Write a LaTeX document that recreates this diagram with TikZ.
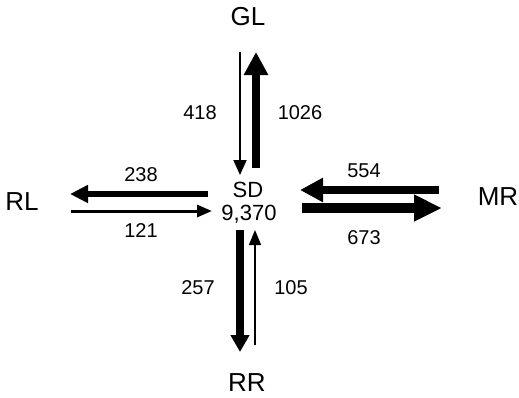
\documentclass[tikz,border=0pt]{standalone}
\usepackage{fontspec}
\setmainfont{Liberation Sans}
\usetikzlibrary{arrows.meta}
\begin{document}
\begin{tikzpicture}[x=1pt,y=-1pt,
  lbl/.style={font=\fontsize{20}{23}\selectfont, inner sep=0pt},
  sdlbl/.style={font=\fontsize{22}{25}\selectfont, inner sep=0pt},
  place/.style={font=\fontsize{26}{29}\selectfont, inner sep=0pt},
  flow/.style args={#1/#2/#3}{line width=#1, -{Triangle[width=#2, length=#3]}}]
\useasboundingbox (0,0) rectangle (519,397);
% places
\node[place] (GL) at (248,17) {GL};
\node[place] (RL) at (22,202) {RL};
\node[place] (MR) at (498,197) {MR};
\node[place] (RR) at (247,383) {RR};
\node[sdlbl] (SD) at (248,190) {SD};
\node[sdlbl] (SDn) at (249,214) {9,370};
% flow labels
\node[lbl] (l418) at (200,113) {418};
\node[lbl] (l1026) at (300,113) {1026};
\node[lbl] (l238) at (141,175) {238};
\node[lbl] (l121) at (141,231) {121};
\node[lbl] (l554) at (364,171) {554};
\node[lbl] (l673) at (364,238) {673};
\node[lbl] (l257) at (198,288) {257};
\node[lbl] (l105) at (291,288) {105};
% arrow end points
\coordinate (gA1) at (240,52);  \coordinate (gA2) at (240,175);
\coordinate (gB1) at (256,168); \coordinate (gB2) at (256,52);
\coordinate (lA1) at (208,194); \coordinate (lA2) at (70,194);
\coordinate (lB1) at (71,211);  \coordinate (lB2) at (212,211);
\coordinate (mA1) at (439,190); \coordinate (mA2) at (300,190);
\coordinate (mB1) at (302,208); \coordinate (mB2) at (442,208);
\coordinate (rA1) at (240,230); \coordinate (rA2) at (240,352);
\coordinate (rB1) at (255,345); \coordinate (rB2) at (255,230);
% flows
\draw[flow=2pt/13pt/15pt] (gA1) -- (gA2);
\draw[flow=8pt/23pt/23pt] (gB1) -- (gB2);
\draw[flow=6pt/17pt/18pt] (lA1) -- (lA2);
\draw[flow=3pt/12pt/15pt] (lB1) -- (lB2);
\draw[flow=8pt/23pt/23pt] (mA1) -- (mA2);
\draw[flow=10pt/25pt/28pt] (mB1) -- (mB2);
\draw[flow=8pt/18pt/17pt] (rA1) -- (rA2);
\draw[flow=1.5pt/12pt/15pt] (rB1) -- (rB2);
\end{tikzpicture}
\end{document}
